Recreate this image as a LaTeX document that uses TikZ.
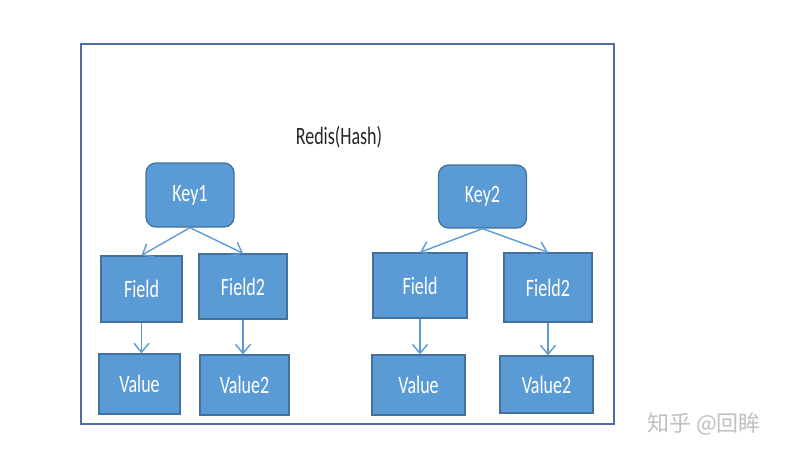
\documentclass[tikz,border=0pt]{standalone}
\usepackage{fontspec}
\setmainfont{Carlito}
\newfontfamily\cjkfont{Noto Sans CJK SC}
\usetikzlibrary{arrows.meta}
\definecolor{boxfill}{HTML}{5B9BD5}
\definecolor{boxline}{HTML}{41719C}
\definecolor{arrowc}{HTML}{5B9BD5}
\definecolor{framec}{HTML}{4F6FA0}
\definecolor{wmark}{HTML}{C0C0C0}
\newcommand{\sqz}[1]{\scalebox{0.72}[1]{#1}}
\begin{document}
\begin{tikzpicture}[x=1pt,y=-1pt,
  box/.style={draw=boxline, fill=boxfill, line width=1.3pt, text=white,
    inner sep=0pt, font=\fontsize{25}{28}\selectfont},
  keybox/.style={box, rounded corners=10pt},
  arr/.style={draw=arrowc, line width=1.4pt, -{Straight Barb[length=9pt,width=15pt]}},
]
\useasboundingbox (0,0) rectangle (786,456);
\fill[white] (0,0) rectangle (786,456);
\draw[framec, line width=1.3pt] (81,44) rectangle (614,424);
\node[font=\fontsize{25}{28}\selectfont, text=black!85] (title) at (339,137) {\sqz{Redis(Hash)}};

\node[keybox, minimum width=88pt, minimum height=64pt] (key1) at (190,195) {\sqz{Key1}};
\node[keybox, minimum width=88pt, minimum height=63pt] (key2) at (482.5,196.5) {\sqz{Key2}};

\node[box, minimum width=81pt, minimum height=66pt] (f1) at (141.5,289) {\sqz{Field}};
\node[box, minimum width=88pt, minimum height=65pt] (f2) at (243,286.5) {\sqz{Field2}};
\node[box, minimum width=94pt, minimum height=65pt] (f3) at (420,285.5) {\sqz{Field}};
\node[box, minimum width=88pt, minimum height=69pt] (f4) at (548,287.5) {\sqz{Field2}};

\node[box, minimum width=81pt, minimum height=60pt] (v1) at (139.5,384) {\sqz{Value}};
\node[box, minimum width=89pt, minimum height=60pt] (v2) at (244.5,385) {\sqz{Value2}};
\node[box, minimum width=93pt, minimum height=60pt] (v3) at (418.5,385) {\sqz{Value}};
\node[box, minimum width=93pt, minimum height=57pt] (v4) at (546.5,384.5) {\sqz{Value2}};

\draw[arr] (key1.south) -- (f1.north);
\draw[arr] (key1.south) -- (f2.north);
\draw[arr] (key2.south) -- (f3.north);
\draw[arr] (key2.south) -- (f4.north);

\draw[arr] (f1.south) -- (f1.south |- v1.north);
\draw[arr] (f2.south) -- (f2.south |- v2.north);
\draw[arr] (f3.south) -- (f3.south |- v3.north);
\draw[arr] (f4.south) -- (f4.south |- v4.north);

\node[text=wmark, font=\cjkfont\fontsize{22}{24}\selectfont] (wm) at (704,424) {知乎 @回眸};
\end{tikzpicture}
\end{document}
